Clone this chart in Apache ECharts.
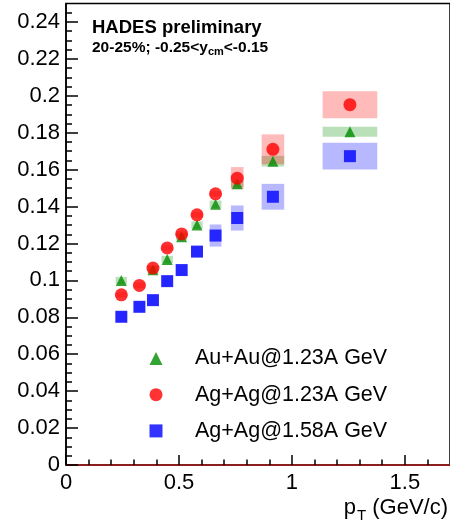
<!DOCTYPE html>
<html>
<head>
<meta charset="utf-8">
<script src="https://cdn.jsdelivr.net/npm/echarts@6/dist/echarts.min.js"></script>
<style>
  html, body { margin: 0; padding: 0; background: #fff; }
  #chart { width: 450px; height: 525px; }
</style>
</head>
<body>
<div id="chart"></div>
<script>
// pT bin centres (GeV/c)
const ptAg = [0.245, 0.325, 0.385, 0.448, 0.512, 0.58, 0.662, 0.758, 0.916, 1.257];
const ptAu = [0.245, 0.385, 0.448, 0.512, 0.58, 0.662, 0.758, 0.916, 1.257];

// half-width of the systematic boxes along pT
const boxHalfAg = [0.025, 0.025, 0.025, 0.025, 0.025, 0.025, 0.026, 0.028, 0.05, 0.121];
const boxHalfAu = [0.025, 0.025, 0.025, 0.025, 0.025, 0.026, 0.028, 0.05, 0.121];

// Au+Au @ 1.23A GeV
const auAu123 = [0.0999, 0.1058, 0.1113, 0.1237, 0.1300, 0.1413, 0.1524, 0.1646, 0.1805];
const auAu123Sys = [0.002, 0.002, 0.002, 0.002, 0.002, 0.002, 0.002, 0.0029, 0.0027];

// Ag+Ag @ 1.23A GeV
const agAg123 = [0.0922, 0.0973, 0.1067, 0.1176, 0.1252, 0.1355, 0.1469, 0.1554, 0.1710, 0.1952];
const agAg123Sys = [0.0015, 0.0015, 0.0015, 0.0015, 0.0015, 0.0015, 0.0015, 0.0060, 0.0081, 0.0073];

// Ag+Ag @ 1.58A GeV
const agAg158 = [0.0803, 0.0857, 0.0893, 0.0996, 0.1056, 0.1156, 0.1243, 0.1338, 0.1453, 0.1673];
const agAg158Sys = [0.003, 0.003, 0.003, 0.003, 0.003, 0.003, 0.0060, 0.0068, 0.0070, 0.0072];

// axis ticks
const yMajorTicks = [0, 0.02, 0.04, 0.06, 0.08, 0.1, 0.12, 0.14, 0.16, 0.18, 0.2, 0.22, 0.24];
const xMajorTicks = [0, 0.5, 1, 1.5];
const yMinorStep = 0.005, yTop = 0.25;
const xMinorStep = 0.1, xRight = 1.7;

function minorTicks(step, end, majors) {
  const out = [];
  for (let i = 1; i * step < end - 1e-9; i++) {
    const v = Math.round(i * step * 1e6) / 1e6;
    if (!majors.some(m => Math.abs(m - v) < 1e-9)) out.push(v);
  }
  return out;
}
const yMinorTicks = minorTicks(yMinorStep, yTop, yMajorTicks);
const xMinorTicks = minorTicks(xMinorStep, xRight, xMajorTicks);

const FONT = '"Liberation Sans", Arial, Helvetica, sans-serif';

const names = ['Au+Au@1.23A GeV', 'Ag+Ag@1.23A GeV', 'Ag+Ag@1.58A GeV'];
const colGreen = '#008c00', colRed = '#ff0000', colBlue = '#0000ff';

function points(xs, ys) { return xs.map((x, i) => [x, ys[i]]); }
function boxes(xs, ys, hx, hy) { return xs.map((x, i) => [x, ys[i], hx[i], hy[i]]); }

function boxSeries(name, data, fill) {
  return {
    type: 'custom', name: name, silent: true, z: 1,
    encode: { x: 0, y: 1 },
    data: data,
    renderItem: (params, api) => {
      const x = api.value(0), y = api.value(1), hx = api.value(2), hy = api.value(3);
      const p0 = api.coord([x - hx, y + hy]);
      const p1 = api.coord([x + hx, y - hy]);
      return {
        type: 'rect',
        shape: { x: p0[0], y: p0[1], width: p1[0] - p0[0], height: p1[1] - p0[1] },
        style: { fill: fill }
      };
    }
  };
}

const chart = echarts.init(document.getElementById('chart'), null, { renderer: 'canvas' });

chart.setOption({
  animation: false,
  backgroundColor: '#fff',
  grid: {
    left: 66, top: 3.5, width: 386.75, height: 461.5,
    show: true, borderColor: '#000', borderWidth: 1.5, backgroundColor: 'transparent'
  },
  title: [
    {
      text: 'HADES preliminary', left: 87, top: 13, padding: 5,
      textStyle: { fontFamily: FONT, fontWeight: 'bold', fontSize: 18.5, color: '#000' }
    },
    {
      text: '20-25%; -0.25<y{sub|cm}<-0.15', left: 87, top: 34, padding: 5,
      textStyle: {
        fontFamily: FONT, fontWeight: 'bold', fontSize: 15.5, color: '#000', lineHeight: 18,
        rich: { sub: { fontFamily: FONT, fontWeight: 'bold', fontSize: 11, color: '#000', padding: [8, 0, 0, 0] } }
      }
    }
  ],
  graphic: [
    {
      type: 'text', right: 2, top: 497,
      style: {
        text: 'p{sub|T} (GeV/c)', fill: '#000', font: '22px ' + FONT,
        rich: { sub: { fontSize: 15, fontFamily: FONT, fill: '#000', padding: [15, 0, 0, 1] } }
      }
    }
  ],
  legend: {
    orient: 'vertical', left: 144.5, top: 342.5, padding: 5,
    itemWidth: 13, itemHeight: 13, itemGap: 14.2,
    selectedMode: false,
    textStyle: { fontFamily: FONT, fontSize: 21.5, color: '#000', lineHeight: 21, padding: [0, 0, 0, 27.5] },
    data: [
      { name: names[0], icon: 'triangle', itemStyle: { color: colGreen } },
      { name: names[1], icon: 'circle', itemStyle: { color: colRed } },
      { name: names[2], icon: 'rect', itemStyle: { color: colBlue } }
    ]
  },
  xAxis: [
    {
      type: 'value', min: 0, max: xRight, position: 'bottom',
      axisLine: { show: true, onZero: false, lineStyle: { color: '#8c1e1e', width: 2 } },
      axisTick: { show: true, inside: true, length: 10, customValues: xMajorTicks, lineStyle: { color: '#000', width: 1.5 } },
      axisLabel: { customValues: xMajorTicks, fontFamily: FONT, fontSize: 22, color: '#000', margin: 7 },
      splitLine: { show: false }
    },
    {
      type: 'value', min: 0, max: xRight, position: 'bottom',
      axisLine: { show: false },
      axisTick: { show: true, inside: true, length: 5.5, customValues: xMinorTicks, lineStyle: { color: '#000', width: 1.5 } },
      axisLabel: { show: false },
      splitLine: { show: false }
    }
  ],
  yAxis: [
    {
      type: 'value', min: 0, max: yTop, position: 'left',
      axisLine: { show: true, onZero: false, lineStyle: { color: '#000', width: 1.5 } },
      axisTick: { show: true, inside: true, length: 12, customValues: yMajorTicks, lineStyle: { color: '#000', width: 1.5 } },
      axisLabel: { customValues: yMajorTicks, fontFamily: FONT, fontSize: 22, color: '#000', margin: 6 },
      splitLine: { show: false }
    },
    {
      type: 'value', min: 0, max: yTop, position: 'left',
      axisLine: { show: false },
      axisTick: { show: true, inside: true, length: 6, customValues: yMinorTicks, lineStyle: { color: '#000', width: 1.5 } },
      axisLabel: { show: false },
      splitLine: { show: false }
    }
  ],
  series: [
    boxSeries('Au+Au sys', boxes(ptAu, auAu123, boxHalfAu, auAu123Sys), 'rgba(0,140,0,0.27)'),
    boxSeries('Ag+Ag 1.23 sys', boxes(ptAg, agAg123, boxHalfAg, agAg123Sys), 'rgba(255,0,0,0.27)'),
    boxSeries('Ag+Ag 1.58 sys', boxes(ptAg, agAg158, boxHalfAg, agAg158Sys), 'rgba(0,0,255,0.28)'),
    {
      type: 'scatter', name: names[0], symbol: 'triangle', symbolSize: 11, z: 3,
      itemStyle: { color: colGreen }, data: points(ptAu, auAu123)
    },
    {
      type: 'scatter', name: names[1], symbol: 'circle', symbolSize: 13, z: 4,
      itemStyle: { color: colRed }, data: points(ptAg, agAg123)
    },
    {
      type: 'scatter', name: names[2], symbol: 'rect', symbolSize: 12, z: 5,
      itemStyle: { color: colBlue }, data: points(ptAg, agAg158)
    }
  ]
});
</script>
</body>
</html>
